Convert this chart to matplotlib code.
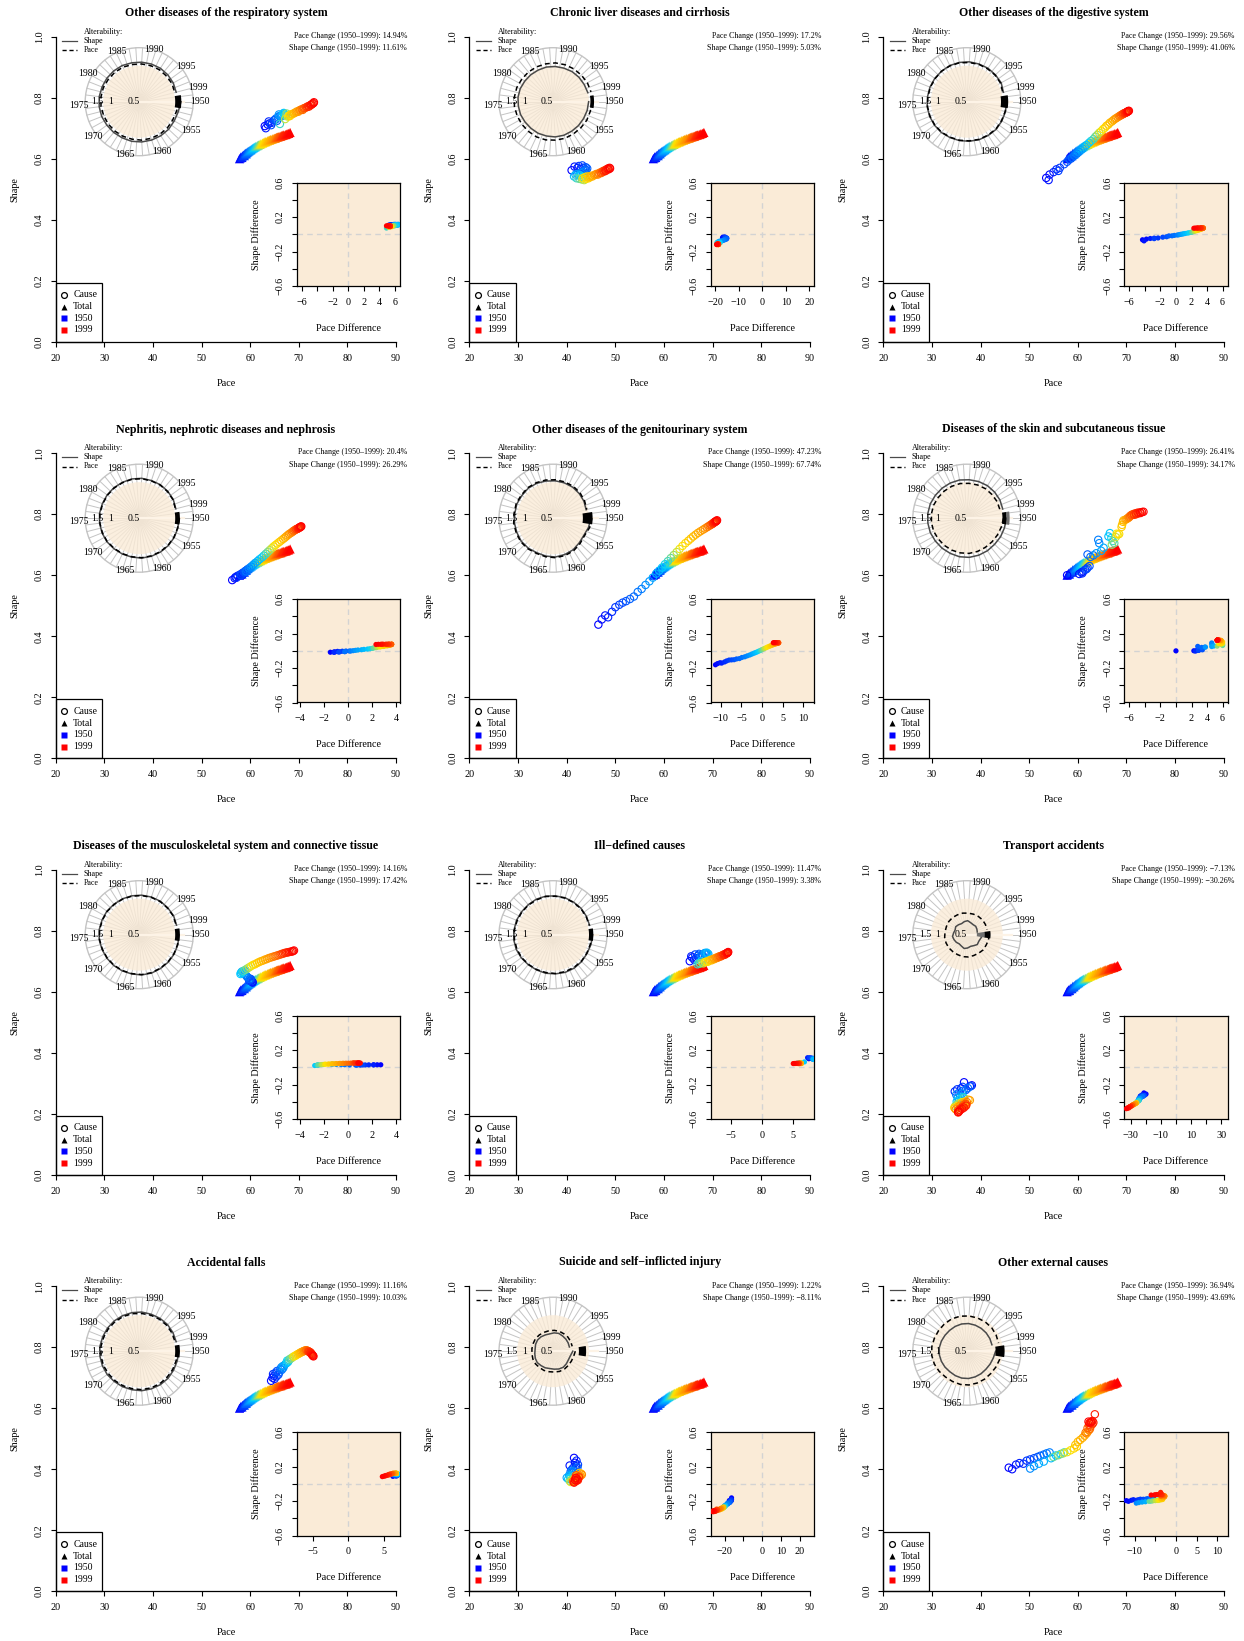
import numpy as np
import matplotlib
matplotlib.use('Agg')
import matplotlib.pyplot as plt
from matplotlib.colors import LinearSegmentedColormap
from matplotlib.patches import Circle, Polygon, Rectangle
from matplotlib.lines import Line2D

plt.rcParams['font.family'] = ['Liberation Serif', 'DejaVu Serif']

# ---- data ----
years = list(range(1950, 2000))
alt_years = years[::2]

titles = ["Other diseases of the respiratory system",
          "Chronic liver diseases and cirrhosis",
          "Other diseases of the digestive system",
          "Nephritis, nephrotic diseases and nephrosis",
          "Other diseases of the genitourinary system",
          "Diseases of the skin and subcutaneous tissue",
          "Diseases of the musculoskeletal system and connective tissue",
          "Ill\u2212defined causes",
          "Transport accidents",
          "Accidental falls",
          "Suicide and self\u2212inflicted injury",
          "Other external causes"]
pace_change = [14.94, 17.2, 29.56, 20.4, 47.23, 26.41, 14.16, 11.47, -7.13, 11.16, 1.22, 36.94]
shape_change = [11.61, 5.03, 41.06, 26.29, 67.74, 34.17, 17.42, 3.38, -30.26, 10.03, -8.11, 43.69]

total_pace = [57.8, 58.0, 58.1, 58.3, 58.4, 58.6, 58.8, 58.9, 59.0, 59.2,
              59.3, 59.5, 59.6, 59.8, 60.0, 60.2, 60.4, 60.6, 60.8, 61.0,
              61.2, 61.5, 61.7, 62.0, 62.2, 62.5, 62.7, 63.0, 63.2, 63.5,
              63.7, 64.0, 64.2, 64.5, 64.7, 65.0, 65.2, 65.4, 65.6, 65.8,
              66.1, 66.3, 66.5, 66.7, 66.9, 67.2, 67.4, 67.6, 67.9, 68.2]
total_shape = [0.600, 0.603, 0.606, 0.604, 0.609, 0.612, 0.610, 0.615, 0.618, 0.616,
               0.620, 0.622, 0.624, 0.626, 0.628, 0.630, 0.633, 0.635, 0.637, 0.639,
               0.641, 0.643, 0.645, 0.647, 0.649, 0.651, 0.653, 0.655, 0.656, 0.658,
               0.660, 0.661, 0.663, 0.664, 0.666, 0.667, 0.668, 0.670, 0.671, 0.672,
               0.673, 0.674, 0.676, 0.677, 0.678, 0.679, 0.680, 0.682, 0.683, 0.686]

resp_pace = [63.0, 63.6, 63.2, 64.0, 63.8, 64.5, 64.9, 64.3, 65.2, 65.5,
             65.3, 65.8, 66.0, 66.3, 65.9, 66.5, 66.8, 67.0, 66.9, 67.2,
             66.1, 67.4, 67.5, 67.2, 67.8, 68.0, 68.3, 68.2, 68.6, 68.9,
             69.1, 69.4, 69.6, 69.9, 70.1, 70.3, 70.6, 70.8, 71.0, 71.2,
             71.5, 71.7, 71.9, 72.1, 72.3, 72.5, 72.6, 72.8, 73.0, 73.1]
resp_shape = [0.707, 0.712, 0.700, 0.716, 0.722, 0.718, 0.726, 0.710, 0.728, 0.724,
              0.732, 0.736, 0.740, 0.738, 0.745, 0.742, 0.748, 0.746, 0.750, 0.744,
              0.714, 0.740, 0.748, 0.730, 0.738, 0.742, 0.745, 0.740, 0.746, 0.748,
              0.750, 0.752, 0.755, 0.754, 0.758, 0.760, 0.762, 0.760, 0.765, 0.766,
              0.768, 0.770, 0.772, 0.771, 0.775, 0.776, 0.778, 0.780, 0.782, 0.785]

liver_pace = [41.0, 42.2, 41.6, 42.8, 42.5, 43.4, 43.8, 43.2, 43.9, 44.2,
              44.0, 43.6, 43.3, 42.9, 42.2, 41.8, 42.5, 41.5, 42.8, 43.2,
              42.0, 42.6, 43.1, 43.6, 43.3, 44.0, 43.8, 44.5, 44.3, 44.8,
              45.0, 45.3, 45.6, 45.9, 46.1, 46.4, 46.6, 46.9, 47.1, 47.3,
              47.5, 47.7, 47.9, 48.1, 48.3, 48.0, 48.5, 48.6, 48.8, 48.9]
liver_shape = [0.562, 0.570, 0.574, 0.566, 0.576, 0.570, 0.565, 0.578, 0.572, 0.568,
               0.562, 0.560, 0.556, 0.553, 0.550, 0.548, 0.545, 0.542, 0.545, 0.540,
               0.536, 0.534, 0.532, 0.530, 0.536, 0.534, 0.540, 0.536, 0.542, 0.540,
               0.544, 0.542, 0.546, 0.548, 0.550, 0.548, 0.552, 0.555, 0.553, 0.557,
               0.560, 0.558, 0.562, 0.564, 0.566, 0.560, 0.568, 0.565, 0.570, 0.568]

dig_pace = [53.5, 54.2, 54.0, 55.0, 55.6, 56.3, 56.0, 57.2, 57.8, 58.3,
            58.8, 59.3, 59.8, 60.2, 60.6, 61.0, 61.4, 61.8, 62.3, 62.7,
            63.2, 63.6, 64.0, 64.4, 64.8, 65.2, 65.6, 65.9, 66.3, 66.6,
            67.0, 67.3, 67.6, 67.9, 68.2, 68.5, 68.7, 68.9, 69.1, 69.3,
            69.4, 69.6, 69.7, 69.9, 70.0, 70.1, 70.2, 70.3, 70.4, 70.5]
dig_shape = [0.537, 0.548, 0.530, 0.556, 0.565, 0.570, 0.560, 0.582, 0.590, 0.598,
             0.603, 0.610, 0.616, 0.622, 0.628, 0.633, 0.640, 0.645, 0.652, 0.658,
             0.664, 0.672, 0.678, 0.685, 0.690, 0.697, 0.702, 0.708, 0.712, 0.718,
             0.722, 0.726, 0.730, 0.733, 0.736, 0.739, 0.741, 0.743, 0.745, 0.746,
             0.748, 0.749, 0.750, 0.751, 0.752, 0.753, 0.754, 0.755, 0.756, 0.757]

neph_pace = [56.3, 56.8, 57.0, 57.4, 57.2, 57.9, 58.3, 58.1, 58.7, 59.0,
             59.4, 59.2, 59.8, 60.2, 60.6, 61.0, 61.5, 61.9, 62.4, 62.8,
             63.2, 63.6, 64.0, 64.4, 64.8, 65.2, 65.6, 66.0, 66.4, 66.8,
             67.1, 67.4, 67.7, 68.0, 68.3, 68.6, 68.8, 69.0, 69.2, 69.4,
             69.5, 69.7, 69.8, 69.9, 70.0, 70.1, 70.2, 70.3, 70.4, 70.5]
neph_shape = [0.584, 0.590, 0.594, 0.598, 0.592, 0.602, 0.606, 0.600, 0.610, 0.614,
              0.618, 0.612, 0.622, 0.628, 0.634, 0.640, 0.646, 0.652, 0.658, 0.664,
              0.670, 0.676, 0.682, 0.688, 0.694, 0.699, 0.704, 0.709, 0.714, 0.719,
              0.723, 0.727, 0.731, 0.735, 0.738, 0.741, 0.744, 0.746, 0.748, 0.750,
              0.751, 0.752, 0.753, 0.754, 0.755, 0.756, 0.757, 0.758, 0.759, 0.760]

gen_pace = [46.5, 47.2, 47.9, 48.5, 49.3, 50.0, 50.8, 51.5, 52.2, 53.0,
            53.8, 54.6, 55.4, 56.2, 57.0, 57.7, 58.4, 59.0, 59.6, 60.2,
            60.8, 61.4, 62.0, 62.6, 63.2, 63.8, 64.4, 65.0, 65.5, 66.0,
            66.5, 67.0, 67.5, 68.0, 68.4, 68.8, 69.1, 69.4, 69.6, 69.8,
            70.0, 70.1, 70.2, 70.3, 70.4, 70.5, 70.6, 70.7, 70.8, 70.9]
gen_shape = [0.438, 0.455, 0.468, 0.462, 0.480, 0.495, 0.503, 0.510, 0.515, 0.522,
             0.530, 0.545, 0.555, 0.568, 0.580, 0.592, 0.605, 0.615, 0.625, 0.636,
             0.646, 0.656, 0.666, 0.676, 0.686, 0.696, 0.705, 0.713, 0.720, 0.727,
             0.733, 0.739, 0.744, 0.749, 0.753, 0.757, 0.760, 0.763, 0.765, 0.767,
             0.769, 0.770, 0.772, 0.773, 0.774, 0.775, 0.776, 0.777, 0.778, 0.780]

skin_pace = [57.8, 60.3, 60.8, 61.1, 60.9, 61.5, 62.0, 61.8, 62.4, 62.0,
             62.6, 63.2, 64.2, 64.4, 63.8, 64.8, 65.3, 66.3, 66.6, 66.9,
             67.2, 67.5, 67.0, 67.8, 68.2, 68.0, 68.5, 69.0, 69.1, 69.3,
             69.4, 69.8, 70.0, 70.2, 70.4, 70.5, 70.7, 70.8, 71.0, 71.2,
             71.5, 71.6, 71.9, 72.0, 72.3, 72.5, 72.8, 72.9, 73.2, 73.5]
skin_shape = [0.600, 0.604, 0.610, 0.612, 0.606, 0.618, 0.625, 0.620, 0.630, 0.668,
              0.660, 0.665, 0.716, 0.705, 0.672, 0.680, 0.690, 0.727, 0.738, 0.722,
              0.712, 0.705, 0.700, 0.725, 0.733, 0.736, 0.735, 0.758, 0.765, 0.775,
              0.780, 0.782, 0.784, 0.786, 0.788, 0.790, 0.792, 0.795, 0.797, 0.799,
              0.801, 0.798, 0.803, 0.800, 0.805, 0.803, 0.806, 0.804, 0.807, 0.808]

musc_pace = [60.5, 60.4, 60.2, 60.4, 60.1, 60.0, 59.8, 60.1, 59.6, 59.9,
             59.4, 59.2, 59.0, 58.8, 58.6, 58.9, 58.3, 58.1, 58.0, 58.4,
             58.6, 59.0, 59.4, 59.8, 60.2, 60.6, 61.0, 61.4, 61.8, 62.2,
             62.6, 63.0, 63.4, 63.8, 64.2, 64.6, 65.0, 65.4, 65.8, 66.2,
             66.5, 66.8, 67.1, 67.4, 67.7, 68.0, 68.3, 68.6, 68.8, 69.0]
musc_shape = [0.630, 0.633, 0.636, 0.632, 0.638, 0.640, 0.636, 0.642, 0.645, 0.641,
              0.648, 0.652, 0.656, 0.660, 0.664, 0.668, 0.666, 0.662, 0.658, 0.664,
              0.668, 0.672, 0.676, 0.680, 0.684, 0.688, 0.690, 0.694, 0.697, 0.700,
              0.702, 0.705, 0.707, 0.710, 0.712, 0.714, 0.716, 0.718, 0.720, 0.722,
              0.724, 0.725, 0.727, 0.728, 0.729, 0.730, 0.731, 0.732, 0.733, 0.735]

ill_pace = [65.3, 65.8, 66.2, 65.6, 66.6, 67.0, 66.4, 67.4, 67.8, 67.2,
            68.0, 68.3, 67.7, 68.6, 68.9, 68.4, 69.1, 68.8, 67.6, 67.2,
            66.9, 67.4, 67.8, 68.1, 68.4, 68.7, 69.0, 69.3, 69.5, 69.8,
            70.0, 70.2, 70.4, 70.6, 70.8, 71.0, 71.2, 71.4, 71.6, 71.8,
            72.0, 72.2, 72.3, 72.5, 72.6, 72.8, 72.9, 73.0, 73.1, 73.2]
ill_shape = [0.700, 0.712, 0.705, 0.716, 0.710, 0.718, 0.722, 0.714, 0.720, 0.724,
             0.718, 0.725, 0.721, 0.726, 0.722, 0.727, 0.724, 0.728, 0.700, 0.694,
             0.690, 0.692, 0.695, 0.693, 0.697, 0.699, 0.698, 0.702, 0.704, 0.703,
             0.706, 0.708, 0.707, 0.710, 0.712, 0.711, 0.714, 0.716, 0.715, 0.718,
             0.719, 0.720, 0.722, 0.721, 0.724, 0.725, 0.726, 0.727, 0.728, 0.730]

trans_pace = [36.6, 38.2, 37.8, 36.0, 34.7, 35.2, 36.3, 37.0, 38.0, 35.5,
              36.5, 37.4, 35.0, 35.8, 36.2, 35.3, 35.6, 36.4, 35.1, 35.9,
              36.6, 35.1, 34.8, 35.6, 36.2, 34.6, 35.4, 36.8, 34.7, 37.5,
              36.0, 35.3, 36.8, 37.8, 35.8, 34.9, 37.2, 36.4, 35.4, 36.9,
              37.1, 35.9, 36.3, 35.4, 37.0, 36.6, 35.8, 36.2, 35.6, 35.4]
trans_shape = [0.303, 0.293, 0.290, 0.283, 0.273, 0.280, 0.288, 0.278, 0.290, 0.268,
               0.276, 0.284, 0.262, 0.257, 0.266, 0.252, 0.246, 0.255, 0.240, 0.248,
               0.252, 0.230, 0.225, 0.234, 0.238, 0.220, 0.226, 0.240, 0.218, 0.246,
               0.232, 0.222, 0.236, 0.244, 0.226, 0.214, 0.238, 0.228, 0.212, 0.232,
               0.230, 0.218, 0.222, 0.204, 0.226, 0.220, 0.212, 0.216, 0.208, 0.206]

falls_pace = [64.6, 64.3, 64.9, 65.0, 64.7, 65.4, 65.2, 65.8, 65.5, 66.0,
              66.2, 66.5, 66.4, 66.8, 67.0, 66.7, 67.3, 67.5, 67.8, 67.6,
              68.0, 68.2, 68.5, 68.8, 69.0, 69.3, 69.5, 69.8, 70.0, 70.2,
              70.4, 70.6, 70.8, 71.0, 71.1, 71.3, 71.5, 71.6, 71.8, 71.9,
              72.0, 72.1, 72.3, 72.4, 72.5, 72.6, 72.7, 72.8, 72.9, 73.0]
falls_shape = [0.700, 0.690, 0.706, 0.696, 0.712, 0.704, 0.716, 0.710, 0.722, 0.718,
               0.728, 0.726, 0.734, 0.732, 0.740, 0.738, 0.746, 0.748, 0.752, 0.756,
               0.758, 0.762, 0.764, 0.768, 0.770, 0.772, 0.775, 0.777, 0.779, 0.781,
               0.783, 0.784, 0.786, 0.787, 0.788, 0.789, 0.790, 0.789, 0.788, 0.787,
               0.786, 0.785, 0.784, 0.782, 0.780, 0.778, 0.776, 0.774, 0.772, 0.770]

sui_pace = [41.5, 41.7, 40.6, 41.9, 42.0, 41.3, 42.3, 41.0, 41.8, 42.2,
            40.8, 41.5, 41.2, 41.05, 40.5, 40.0, 40.6, 41.2, 40.3, 40.8,
            41.4, 40.6, 41.0, 41.6, 40.8, 41.8, 41.3, 42.0, 42.6, 43.0,
            42.2, 41.6, 42.8, 42.4, 41.9, 43.1, 42.6, 42.0, 41.3, 42.1,
            41.9, 42.5, 41.6, 42.3, 41.8, 42.0, 41.5, 42.2, 41.9, 41.7]
sui_shape = [0.437, 0.421, 0.412, 0.410, 0.428, 0.404, 0.415, 0.398, 0.402, 0.406,
             0.392, 0.395, 0.388, 0.393, 0.380, 0.372, 0.378, 0.382, 0.368, 0.372,
             0.376, 0.362, 0.366, 0.370, 0.358, 0.372, 0.362, 0.376, 0.388, 0.385,
             0.380, 0.366, 0.378, 0.372, 0.362, 0.382, 0.376, 0.368, 0.360, 0.367,
             0.380, 0.374, 0.358, 0.364, 0.370, 0.362, 0.356, 0.366, 0.372, 0.364]

ext_pace = [45.8, 46.5, 47.3, 48.0, 48.8, 49.5, 50.2, 51.0, 51.7, 52.3,
            53.0, 53.6, 54.2, 50.2, 51.0, 52.0, 53.0, 54.5, 55.5, 56.5,
            57.2, 55.0, 56.0, 57.0, 57.8, 58.5, 59.2, 59.8, 59.5, 60.0,
            60.5, 61.0, 61.4, 61.8, 62.0, 62.3, 61.6, 62.5, 62.0, 62.6,
            62.3, 63.0, 62.5, 63.2, 62.8, 63.5, 62.4, 63.0, 62.7, 62.2]
ext_shape = [0.405, 0.400, 0.415, 0.420, 0.418, 0.428, 0.432, 0.436, 0.440, 0.444,
             0.448, 0.452, 0.455, 0.402, 0.410, 0.418, 0.425, 0.436, 0.445, 0.450,
             0.455, 0.440, 0.446, 0.452, 0.456, 0.462, 0.468, 0.474, 0.480, 0.490,
             0.496, 0.503, 0.510, 0.517, 0.522, 0.528, 0.520, 0.532, 0.535, 0.540,
             0.545, 0.548, 0.550, 0.553, 0.556, 0.580, 0.552, 0.558, 0.554, 0.556]

# alterability (every second year, 1950..1998); radius unit = background disc
resp_alt_shape = [1.16, 1.12, 1.11, 1.12, 1.12, 1.12, 1.12, 1.12, 1.11, 1.11, 1.11, 1.12, 1.12,
                  1.12, 1.11, 1.11, 1.11, 1.11, 1.10, 1.10, 1.10, 1.10, 1.09, 1.08, 1.06]
resp_alt_pace = [1.12, 1.07, 1.06, 1.07, 1.07, 1.07, 1.07, 1.06, 1.06, 1.06, 1.06, 1.06, 1.07,
                 1.07, 1.07, 1.06, 1.06, 1.06, 1.05, 1.05, 1.05, 1.05, 1.04, 1.04, 1.02]
liver_alt_shape = [0.99, 0.98, 0.97, 0.97, 0.97, 0.98, 0.98, 0.97, 0.97, 0.96, 0.96, 0.97, 0.97,
                   0.98, 0.98, 0.97, 0.97, 0.97, 0.98, 0.98, 0.98, 0.99, 0.99, 0.99, 1.00]
liver_alt_pace = [1.08, 1.07, 1.07, 1.06, 1.06, 1.07, 1.07, 1.08, 1.08, 1.07, 1.07, 1.07, 1.08,
                  1.08, 1.08, 1.07, 1.07, 1.07, 1.07, 1.08, 1.08, 1.08, 1.08, 1.09, 1.09]
dig_alt_shape = [1.10, 1.11, 1.11, 1.12, 1.11, 1.11, 1.10, 1.10, 1.10, 1.11, 1.11, 1.11, 1.11,
                 1.10, 1.10, 1.10, 1.10, 1.11, 1.11, 1.11, 1.10, 1.10, 1.09, 1.09, 1.05]
dig_alt_pace = [1.12, 1.10, 1.10, 1.11, 1.10, 1.10, 1.09, 1.09, 1.09, 1.10, 1.10, 1.10, 1.10,
                1.09, 1.09, 1.09, 1.10, 1.10, 1.10, 1.09, 1.09, 1.08, 1.08, 1.07, 1.03]
neph_alt_shape = [1.10, 1.11, 1.11, 1.11, 1.11, 1.11, 1.11, 1.10, 1.10, 1.10, 1.11, 1.11, 1.11,
                  1.11, 1.10, 1.10, 1.10, 1.10, 1.11, 1.11, 1.10, 1.10, 1.09, 1.08, 1.05]
neph_alt_pace = [1.12, 1.10, 1.10, 1.10, 1.10, 1.10, 1.10, 1.09, 1.09, 1.09, 1.10, 1.10, 1.10,
                 1.10, 1.09, 1.09, 1.09, 1.09, 1.10, 1.10, 1.09, 1.09, 1.08, 1.07, 1.04]
gen_alt_shape = [1.05, 1.02, 0.98, 1.00, 1.04, 1.06, 1.08, 1.07, 1.06, 1.08, 1.09, 1.08, 1.08,
                 1.07, 1.08, 1.07, 1.08, 1.07, 1.05, 1.04, 1.03, 1.02, 1.00, 0.98, 0.95]
gen_alt_pace = [1.08, 1.05, 1.00, 1.03, 1.07, 1.09, 1.10, 1.09, 1.08, 1.10, 1.11, 1.10, 1.10,
                1.09, 1.10, 1.09, 1.10, 1.09, 1.08, 1.07, 1.06, 1.05, 1.03, 1.00, 0.97]
skin_alt_shape = [1.10, 1.08, 1.07, 1.06, 1.07, 1.08, 1.09, 1.09, 1.08, 1.08, 1.08, 1.09, 1.09,
                  1.09, 1.09, 1.08, 1.08, 1.08, 1.08, 1.07, 1.07, 1.07, 1.06, 1.05, 1.03]
skin_alt_pace = [1.02, 0.99, 0.97, 0.96, 0.96, 0.97, 0.98, 0.98, 0.98, 0.98, 0.98, 0.99, 0.99,
                 0.99, 0.99, 0.98, 0.98, 0.98, 0.98, 0.97, 0.97, 0.97, 0.96, 0.96, 0.95]
musc_alt_shape = [1.10, 1.11, 1.11, 1.11, 1.11, 1.12, 1.12, 1.11, 1.11, 1.11, 1.11, 1.11, 1.12,
                  1.12, 1.11, 1.11, 1.10, 1.10, 1.10, 1.10, 1.10, 1.10, 1.09, 1.09, 1.07]
musc_alt_pace = [1.09, 1.10, 1.10, 1.10, 1.10, 1.11, 1.11, 1.10, 1.10, 1.10, 1.10, 1.10, 1.11,
                 1.11, 1.10, 1.10, 1.09, 1.09, 1.09, 1.09, 1.09, 1.09, 1.08, 1.08, 1.06]
ill_alt_shape = [1.10, 1.09, 1.08, 1.09, 1.10, 1.10, 1.09, 1.09, 1.08, 1.08, 1.09, 1.10, 1.10,
                 1.09, 1.09, 1.08, 1.08, 1.09, 1.09, 1.08, 1.08, 1.07, 1.07, 1.06, 1.05]
ill_alt_pace = [1.08, 1.07, 1.07, 1.08, 1.08, 1.08, 1.08, 1.07, 1.07, 1.07, 1.08, 1.08, 1.08,
                1.08, 1.07, 1.07, 1.07, 1.07, 1.08, 1.07, 1.07, 1.06, 1.06, 1.05, 1.04]
trans_alt_shape = [0.45, 0.40, 0.38, 0.40, 0.36, 0.34, 0.37, 0.39, 0.35, 0.33, 0.36, 0.38, 0.40,
                   0.37, 0.35, 0.38, 0.36, 0.34, 0.37, 0.39, 0.35, 0.33, 0.34, 0.32, 0.30]
trans_alt_pace = [0.62, 0.62, 0.61, 0.62, 0.61, 0.61, 0.62, 0.62, 0.61, 0.61, 0.62, 0.62, 0.62,
                  0.61, 0.61, 0.62, 0.62, 0.61, 0.61, 0.60, 0.60, 0.60, 0.60, 0.59, 0.58]
falls_alt_shape = [1.10, 1.09, 1.09, 1.10, 1.10, 1.10, 1.10, 1.09, 1.09, 1.09, 1.10, 1.10, 1.10,
                   1.10, 1.09, 1.09, 1.09, 1.09, 1.09, 1.09, 1.08, 1.08, 1.08, 1.07, 1.06]
falls_alt_pace = [1.06, 1.06, 1.06, 1.06, 1.07, 1.07, 1.07, 1.06, 1.06, 1.06, 1.06, 1.07, 1.07,
                  1.07, 1.06, 1.06, 1.06, 1.06, 1.06, 1.05, 1.05, 1.05, 1.05, 1.04, 1.03]
sui_alt_shape = [0.55, 0.50, 0.49, 0.51, 0.53, 0.52, 0.50, 0.49, 0.51, 0.52, 0.54, 0.53, 0.51,
                 0.50, 0.52, 0.53, 0.52, 0.50, 0.49, 0.51, 0.52, 0.50, 0.49, 0.48, 0.47]
sui_alt_pace = [0.62, 0.59, 0.58, 0.58, 0.59, 0.59, 0.58, 0.58, 0.59, 0.59, 0.60, 0.60, 0.59,
                0.59, 0.59, 0.60, 0.59, 0.58, 0.58, 0.58, 0.58, 0.57, 0.57, 0.56, 0.55]
ext_alt_shape = [0.80, 0.76, 0.74, 0.73, 0.74, 0.75, 0.76, 0.76, 0.75, 0.74, 0.75, 0.76, 0.77,
                 0.77, 0.76, 0.75, 0.75, 0.76, 0.77, 0.77, 0.76, 0.75, 0.74, 0.73, 0.72]
ext_alt_pace = [0.98, 0.94, 0.92, 0.91, 0.92, 0.93, 0.94, 0.94, 0.93, 0.93, 0.95, 0.97, 0.98,
                0.98, 0.97, 0.97, 0.98, 0.99, 0.99, 0.98, 0.97, 0.96, 0.95, 0.93, 0.91]

# radial extent of the dark block drawn at 1950 (black) and the grey one (shape)
block_black = [(1.00, 1.17), (1.04, 1.14), (0.95, 1.15), (1.00, 1.13), (0.83, 1.10), (0.99, 1.10),
               (1.00, 1.13), (1.00, 1.12), (0.50, 0.66), (1.00, 1.13), (0.72, 0.92), (0.80, 1.05)]
block_grey = [None, None, None, None, None, (1.10, 1.19), None, None, (0.28, 0.52), None, None, None]

causes = [(resp_pace, resp_shape, resp_alt_shape, resp_alt_pace),
          (liver_pace, liver_shape, liver_alt_shape, liver_alt_pace),
          (dig_pace, dig_shape, dig_alt_shape, dig_alt_pace),
          (neph_pace, neph_shape, neph_alt_shape, neph_alt_pace),
          (gen_pace, gen_shape, gen_alt_shape, gen_alt_pace),
          (skin_pace, skin_shape, skin_alt_shape, skin_alt_pace),
          (musc_pace, musc_shape, musc_alt_shape, musc_alt_pace),
          (ill_pace, ill_shape, ill_alt_shape, ill_alt_pace),
          (trans_pace, trans_shape, trans_alt_shape, trans_alt_pace),
          (falls_pace, falls_shape, falls_alt_shape, falls_alt_pace),
          (sui_pace, sui_shape, sui_alt_shape, sui_alt_pace),
          (ext_pace, ext_shape, ext_alt_shape, ext_alt_pace)]

# inset x-range and tick labels (0 = label dropped)
inset_xlim = [6.64, 21.9, 6.64, 4.3, 12.5, 6.64, 4.3, 8.3, 34.2, 7.3, 27.5, 12.5]
inset_ticks = [([-6, -4, -2, 0, 2, 4, 6], [1, 0, 1, 1, 1, 1, 1]),
               ([-20, -10, 0, 10, 20], [1, 1, 1, 1, 1]),
               ([-6, -4, -2, 0, 2, 4, 6], [1, 0, 1, 1, 1, 1, 1]),
               ([-4, -2, 0, 2, 4], [1, 1, 1, 1, 1]),
               ([-10, -5, 0, 5, 10], [1, 1, 1, 1, 1]),
               ([-6, -4, -2, 0, 2, 4, 6], [1, 0, 1, 0, 1, 1, 1]),
               ([-4, -2, 0, 2, 4], [1, 1, 1, 1, 1]),
               ([-5, 0, 5], [1, 1, 1]),
               ([-30, -20, -10, 0, 10, 20, 30], [1, 0, 1, 0, 1, 0, 1]),
               ([-5, 0, 5], [1, 1, 1]),
               ([-20, -10, 0, 10, 20], [1, 0, 1, 1, 1]),
               ([-10, -5, 0, 5, 10], [1, 0, 1, 1, 1])]

# ---- drawing ----
W, H = 1244, 1641
fig = plt.figure(figsize=(W / 100, H / 100), dpi=100)
ramp = LinearSegmentedColormap.from_list('yr', [(0, '#0000FF'), (0.22, '#0070FF'), (0.38, '#00D0FF'),
                                                (0.5, '#FFE600'), (0.7, '#FF9000'), (0.86, '#FF3000'),
                                                (1, '#FF0000')])
col = ramp(np.linspace(0, 1, len(years)))
BEIGE = '#FAEBD7'


def box(x, y, w, h):
    return [x / W, 1 - (y + h) / H, w / W, h / H]


def put(x, y, s, **kw):
    fig.text(x / W, 1 - y / H, s, **kw)


def mark(x, y, **kw):
    fig.add_artist(Line2D([x / W], [1 - y / H], transform=fig.transFigure, ls='none', **kw))


def fmt(v):
    return ('%g' % v).replace('-', '\u2212') + '%'


def wedge(r0, r1, a0=-9, a1=9):
    a = np.deg2rad(np.linspace(a0, a1, 10))
    return np.c_[np.r_[r0 * np.cos(a), r1 * np.cos(a[::-1])], np.r_[r0 * np.sin(a), r1 * np.sin(a[::-1])]]


def polar(L, T, alt_s, alt_p, k):
    cx, cy = L + 83.5, T + 65
    S = 36.0
    pax = fig.add_axes(box(cx - 90, cy - 80, 180, 160))
    pax.set_xlim(-90 / S, 90 / S)
    pax.set_ylim(-80 / S, 80 / S)
    pax.axis('off')
    th = -np.deg2rad((np.array(years) - 1950) * 7.2)
    for t in th:
        pax.plot([0, 1.5 * np.cos(t)], [0, 1.5 * np.sin(t)], color='#c4c4c4', lw=0.7, zorder=1)
    pax.add_patch(Circle((0, 0), 1.0, fc=BEIGE, ec='none', alpha=0.8, zorder=2))
    pax.add_patch(Circle((0, 0), 1.5, fill=False, ec='#c4c4c4', lw=1.0, zorder=2))
    pax.plot([0, 1.25], [0, 0], color='#FDF3E6', lw=1.6, zorder=3)
    a = -np.deg2rad((np.array(alt_years) - 1950) * 7.2)
    rs, rp = np.array(alt_s), np.array(alt_p)
    pax.plot(rs * np.cos(a), rs * np.sin(a), color='#4a4a4a', lw=1.1, zorder=4)
    pax.plot(rp * np.cos(a), rp * np.sin(a), color='black', lw=1.1, ls=(0, (3.2, 2.2)), zorder=5)
    if block_grey[k] is not None:
        pax.add_patch(Polygon(wedge(*block_grey[k]), fc='#707070', ec='none', zorder=6))
    pax.add_patch(Polygon(wedge(*block_black[k]), fc='black', ec='none', zorder=6))
    for lab, dx in [('1.5', -1.15), ('1', -0.80), ('0.5', -0.16)]:
        pax.text(dx, 0, lab, ha='center', va='center', fontsize=7, zorder=7)
    for yr in [1950, 1955, 1960, 1965, 1970, 1975, 1980, 1985, 1990, 1995, 1999]:
        ang = -(yr - 1950) * 7.2 + 4
        if yr == 1950:
            ang = 0
        if yr == 1999:
            ang = 15
        t = np.deg2rad(ang)
        pax.text(1.68 * np.cos(t), 1.50 * np.sin(t), str(yr), ha='center', va='center',
                 fontsize=7, zorder=7)


PW, PH = 340.4, 305.0
for k in range(12):
    r, c = divmod(k, 3)
    L = 55.7 + 413.8 * c
    T = 36.7 + 416.5 * r
    cp, cs, alt_s, alt_p = causes[k]

    ax = fig.add_axes(box(L, T, PW, PH))
    ax.set_xlim(20, 90)
    ax.set_ylim(0, 1)
    for s in ['top', 'right']:
        ax.spines[s].set_visible(False)
    for s in ['left', 'bottom']:
        ax.spines[s].set_linewidth(0.9)
    ax.set_xticks(range(20, 91, 10))
    ax.set_yticks([0, 0.2, 0.4, 0.6, 0.8, 1.0], ['0.0', '0.2', '0.4', '0.6', '0.8', '1.0'],
                  rotation=90, va='center')
    ax.tick_params(direction='out', length=3.6, width=0.8, pad=5, labelsize=7.3)

    ax.scatter(total_pace, total_shape, marker='^', s=44, c=col, edgecolors='none', zorder=3)
    ax.scatter(cp, cs, marker='o', s=28, facecolors='none', edgecolors=col, linewidths=0.8, zorder=4)

    put(L + PW / 2, T - 23.7, titles[k], ha='center', va='center', fontsize=8.6, fontweight='bold')
    put(L + PW / 2, T + PH + 41.6, 'Pace', ha='center', va='center', fontsize=7.3)
    put(L - 40.7, T + PH / 2, 'Shape', ha='center', va='center', fontsize=7.3, rotation=90)
    put(L + PW + 11, T - 0.7, 'Pace Change (1950\u20131999): ' + fmt(pace_change[k]),
        ha='right', va='center', fontsize=5.8)
    put(L + PW + 11, T + 11.6, 'Shape Change (1950\u20131999): ' + fmt(shape_change[k]),
        ha='right', va='center', fontsize=5.8)

    # alterability legend
    put(L + 28.6, T - 5, 'Alterability:', ha='left', va='center', fontsize=5.8)
    put(L + 28.3, T + 4, 'Shape', ha='left', va='center', fontsize=5.8)
    put(L + 28.3, T + 13.3, 'Pace', ha='left', va='center', fontsize=5.8)
    fig.add_artist(Line2D([(L + 6.6) / W, (L + 21.6) / W], [1 - (T + 4) / H] * 2,
                          transform=fig.transFigure, color='#4a4a4a', lw=0.9))
    fig.add_artist(Line2D([(L + 6.6) / W, (L + 21.6) / W], [1 - (T + 13.3) / H] * 2,
                          transform=fig.transFigure, color='black', lw=1.0, ls=(0, (3, 2))))

    # bottom-left legend
    fig.add_artist(Rectangle(((L) / W, 1 - (T + PH) / H), 46 / W, 59 / H, transform=fig.transFigure,
                             fill=False, ec='black', lw=0.9))
    mark(L + 8.6, T + PH - 47, marker='o', ms=4.2, mfc='none', mec='black', mew=0.9)
    mark(L + 8.6, T + PH - 35, marker='^', ms=4.6, mfc='black', mec='none')
    mark(L + 8.6, T + PH - 23.4, marker='s', ms=4.6, mfc='#0000FF', mec='none')
    mark(L + 8.6, T + PH - 11.7, marker='s', ms=4.6, mfc='#FF0000', mec='none')
    for lab, dy in [('Cause', 47), ('Total', 35), ('1950', 23.4), ('1999', 11.7)]:
        put(L + 17.6, T + PH - dy, lab, ha='left', va='center', fontsize=7)

    # polar alterability plot
    polar(L, T, alt_s, alt_p, k)

    # difference inset
    IL, IT, IS = L + 241, T + 146, 103.3
    iax = fig.add_axes(box(IL, IT, IS, IS))
    iax.set_facecolor(BEIGE)
    hx = inset_xlim[k]
    iax.set_xlim(-hx, hx)
    iax.set_ylim(-0.6, 0.6)
    iax.axhline(0, color='#d3d3d3', lw=1, ls=(0, (4, 3)), zorder=1)
    iax.axvline(0, color='#d3d3d3', lw=1, ls=(0, (4, 3)), zorder=1)
    dp = np.array(cp) - np.array(total_pace)
    ds = np.array(cs) - np.array(total_shape)
    iax.scatter(dp, ds, s=14, c=col, edgecolors='none', zorder=3)
    tv, show = inset_ticks[k]
    iax.set_xticks(tv, [('%g' % v).replace('-', '\u2212') if sh else '' for v, sh in zip(tv, show)])
    iax.set_yticks([-0.6, -0.4, -0.2, 0, 0.2, 0.4, 0.6],
                   ['\u22120.6', '', '\u22120.2', '', '0.2', '', '0.6'], rotation=90, va='center')
    iax.tick_params(direction='out', length=3.6, width=0.8, pad=5, labelsize=7.3)
    for s in iax.spines.values():
        s.set_linewidth(0.9)
    put(IL + IS / 2, IT + IS + 42.3, 'Pace Difference', ha='center', va='center', fontsize=7.3)
    put(IL - 40.7, IT + IS / 2, 'Shape Difference', ha='center', va='center', fontsize=7.3, rotation=90)

fig.savefig('out.png', dpi=100)
